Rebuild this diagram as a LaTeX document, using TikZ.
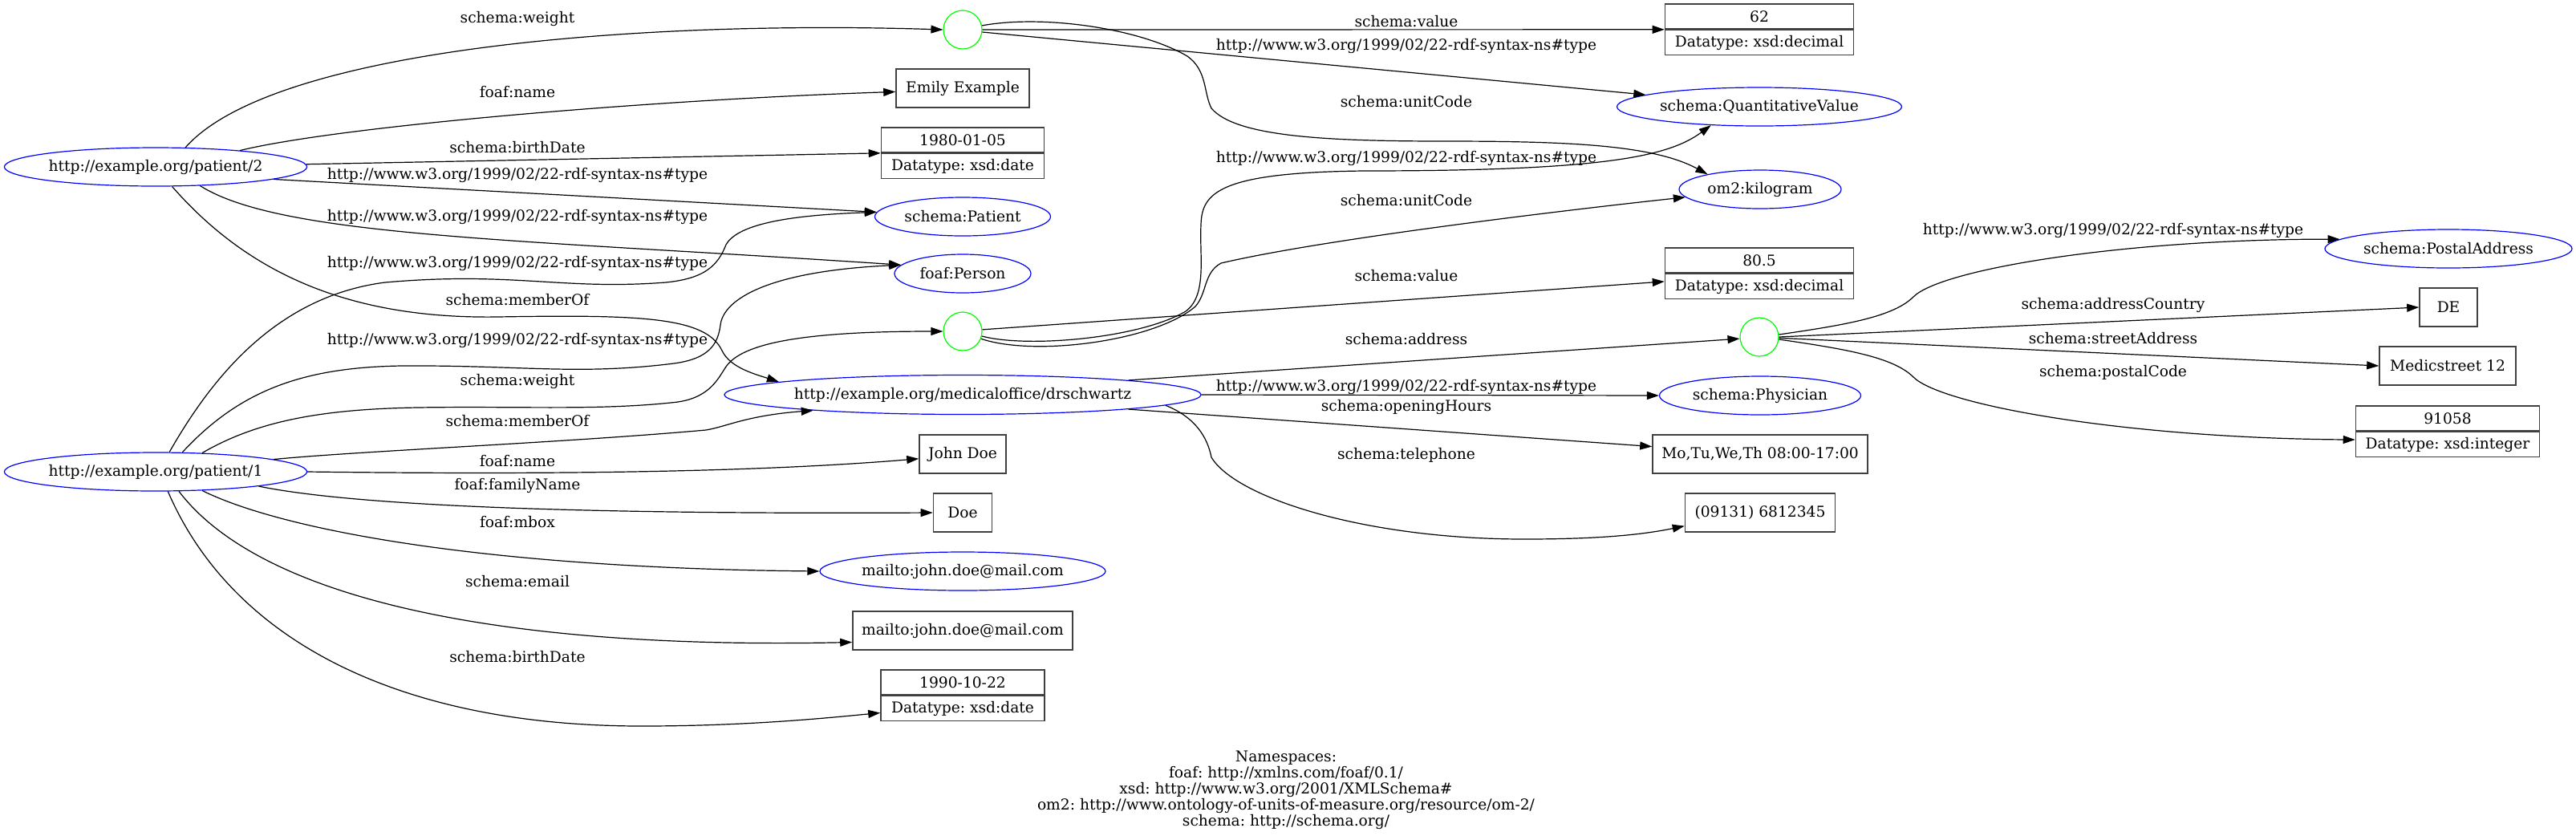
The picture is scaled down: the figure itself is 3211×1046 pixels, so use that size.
\documentclass[tikz,border=0pt]{standalone}
\usepackage{fontspec}
\setmainfont{DejaVu Serif}
\usetikzlibrary{positioning, arrows.meta, shapes.geometric}
\newcommand{\rdftype}{http://www.w3.org/1999/02/22-rdf-syntax-ns\#type}
\frenchspacing
\tikzset{
    every node/.style={
        font=\fontsize{9.33pt}{10pt}\selectfont
    },
    iri/.style={
        ellipse,
        draw=blue,
        line width=0.6pt,
        inner sep=0pt,
        minimum height=24pt
    },
    bnode/.style={
        circle,
        draw=green,
        line width=0.6pt,
        inner sep=0pt,
        minimum size=24pt
    },
    literal/.style={
        rectangle,
        draw=black!75,
        line width=0.8pt,
        inner sep=0pt,
        minimum height=24pt
    },
    litpart/.style={
        rectangle,
        draw=black!75,
        line width=0.8pt,
        inner sep=0pt,
        minimum height=15.5pt
    },
    edge/.style={
        line width=0.6pt,
        -{Triangle[length=7.5pt,width=5pt]}
    },
    lbl/.style={
        inner sep=0pt
    }
}

\begin{document}
\begin{tikzpicture}[x=0.5pt,y=-0.5pt]
\useasboundingbox (0,0) rectangle (3211,1046);

%---------------- Subjects ----------------

\node[iri, minimum width=188.5pt] (p2) at (194,208) {http://example.org/patient/2};
\node[iri, minimum width=188.5pt] (p1) at (194,588) {http://example.org/patient/1};

%---------------- Middle column ----------------

\node[bnode] (bn1) at (1200,37) {};
\node[literal, minimum width=83pt] (emily) at (1200,110) {Emily Example};
\node[litpart, minimum width=101.5pt] (t1980) at (1200,174.5) {1980-01-05};
\node[litpart, minimum width=101.5pt, below=0pt of t1980] (d1980) {Datatype: xsd:date};
\node[iri, minimum width=109.5pt] (pat) at (1200,270) {schema:Patient};
\node[iri, minimum width=85pt] (per) at (1200,341) {foaf:Person};
\node[bnode] (bn2) at (1200,413) {};
\node[iri, minimum width=289.5pt, minimum height=24.5pt] (dr) at (1200,492) {http://example.org/medicaloffice/drschwartz};
\node[literal, minimum width=54pt] (john) at (1200,566) {John Doe};
\node[literal, minimum width=36.5pt] (doe) at (1200,639) {Doe};
\node[iri, minimum width=178pt] (mailto) at (1200,712) {mailto:john.doe@mail.com};
\node[literal, minimum width=137pt] (mbox) at (1200,786) {mailto:john.doe@mail.com};
\node[litpart, minimum width=102pt] (t1990) at (1200,850.5) {1990-10-22};
\node[litpart, minimum width=102pt, below=0pt of t1990] (d1990) {Datatype: xsd:date};

%---------------- Right column ----------------

\node[litpart, minimum width=117.5pt] (t62) at (2193,20.5) {62};
\node[litpart, minimum width=117.5pt, below=0pt of t62] (d62) {Datatype: xsd:decimal};
\node[iri, minimum width=177.5pt] (qv) at (2193,133) {schema:QuantitativeValue};
\node[iri, minimum width=101pt] (om2) at (2194,236) {om2:kilogram};
\node[litpart, minimum width=117.5pt] (t805) at (2193,324.5) {80.5};
\node[litpart, minimum width=117.5pt, below=0pt of t805] (d805) {Datatype: xsd:decimal};
\node[bnode] (bn3) at (2193,420) {};
\node[iri, minimum width=125.5pt] (phys) at (2194,493) {schema:Physician};
\node[literal, minimum width=134pt] (mo) at (2194,566) {Mo,Tu,We,Th 08:00-17:00};
\node[literal, minimum width=93.5pt] (tel) at (2194,639) {(09131) 6812345};

%---------------- Address ----------------

\node[iri, minimum width=154pt] (pa) at (3052,310) {schema:PostalAddress};
\node[literal, minimum width=36pt] (de) at (3052,383) {DE};
\node[literal, minimum width=85pt] (med) at (3051,456) {Medicstreet 12};
\node[litpart, minimum width=114.5pt] (t91058) at (3051,521.5) {91058};
\node[litpart, minimum width=114.5pt, below=0pt of t91058] (d91058) {Datatype: xsd:integer};

%---------------- Edges of patient/2 ----------------

\draw[edge] (p2.33) .. controls (340,60) and (800,25) .. (bn1.west);
\draw[edge] (p2.11) .. controls (420,158) and (800,125) .. (emily.183);
\draw[edge] (p2.1) -- (t1980.south west);
\draw[edge] (p2.-6) -- (pat.177);
\draw[edge] (p2.-23) .. controls (350,295) and (640,298) .. (per.172);
\draw[edge] (p2.-50) .. controls (300,330) and (420,398) .. (620,395) .. controls (800,392) and (880,395) .. (900,437) .. controls (910,458) and (940,466) .. (dr.176);

\node[lbl] (lw2) at (645,23) {schema:weight};
\node[lbl] (ln2) at (645,115) {foaf:name};
\node[lbl] (lb2) at (645,184) {schema:birthDate};
\node[lbl] (lt2a) at (645,218) {\rdftype};
\node[lbl] (lt2b) at (645,270) {\rdftype};
\node[lbl] (lm2) at (645,374) {schema:memberOf};

%---------------- Edges of patient/1 ----------------

\draw[edge] (p1.55) .. controls (260,478) and (340,370) .. (480,352) .. controls (640,338) and (700,362) .. (830,352) .. controls (880,347) and (895,330) .. (905,305) .. controls (920,278) and (990,268) .. (pat.177);
\draw[edge] (p1.36) .. controls (300,485) and (380,458) .. (500,456) .. controls (650,455) and (720,468) .. (840,453) .. controls (885,447) and (895,428) .. (898,405) .. controls (902,372) and (960,338) .. (per.172);
\draw[edge] (p1.22) .. controls (320,525) and (400,510) .. (520,508) .. controls (650,506) and (750,512) .. (845,501) .. controls (885,495) and (895,472) .. (905,457) .. controls (925,428) and (1000,413) .. (bn2.west);
\draw[edge] (p1.6) .. controls (450,562) and (700,552) .. (880,536) .. controls (905,532) and (930,518) .. (dr.186);
\draw[edge] (p1.east) .. controls (700,592) and (950,588) .. (john.186);
\draw[edge] (p1.-8) .. controls (450,632) and (750,641) .. (doe.west);
\draw[edge] (p1.-22) .. controls (350,660) and (600,708) .. (mailto.west);
\draw[edge] (p1.-40) .. controls (320,740) and (600,810) .. (mbox.186);
\draw[edge] (p1.-58) .. controls (290,800) and (500,905) .. (800,905) .. controls (930,905) and (1030,895) .. (d1990.183);

\node[lbl] (lt1a) at (645,328) {\rdftype};
\node[lbl] (lt1b) at (645,424) {\rdftype};
\node[lbl] (lw1) at (645,475) {schema:weight};
\node[lbl] (lm1) at (645,525) {schema:memberOf};
\node[lbl] (ln1) at (645,575) {foaf:name};
\node[lbl] (lf1) at (645,605) {foaf:familyName};
\node[lbl] (lmb1) at (645,651) {foaf:mbox};
\node[lbl] (le1) at (645,725) {schema:email};
\node[lbl] (lb1) at (645,819) {schema:birthDate};

%---------------- Edges of the weights ----------------

\draw[edge] (bn1.east) -- (t62.south west);
\draw[edge] (bn1.-7) -- (qv.174);
\draw[edge] (bn1.12) .. controls (1300,18) and (1420,35) .. (1480,70) .. controls (1505,88) and (1500,115) .. (1510,135) .. controls (1540,170) and (1650,176) .. (1800,176) .. controls (1950,176) and (2060,180) .. (om2.164);
\draw[edge] (bn2.-14) .. controls (1280,434) and (1420,422) .. (1478,388) .. controls (1505,368) and (1495,320) .. (1497,280) .. controls (1498,240) and (1520,215) .. (1700,213) .. controls (2000,213) and (2080,195) .. (qv.-159);
\draw[edge] (bn2.-22) .. controls (1290,445) and (1440,425) .. (1490,382) .. controls (1505,365) and (1500,340) .. (1522,328) .. controls (1650,298) and (1950,262) .. (om2.186);
\draw[edge] (bn2.5) -- (d805.177);

\node[lbl] (lv1) at (1753,27) {schema:value};
\node[lbl] (lq1) at (1753,57) {\rdftype};
\node[lbl] (lu1) at (1753,127) {schema:unitCode};
\node[lbl] (lq2) at (1753,197) {\rdftype};
\node[lbl] (lu2) at (1753,250) {schema:unitCode};
\node[lbl] (lv2) at (1753,344) {schema:value};

%---------------- Edges of the medical office ----------------

\draw[edge] (dr.5) -- (bn3.185);
\draw[edge] (dr.east) -- (phys.west);
\draw[edge] (dr.-5) -- (mo.176);
\draw[edge] (dr.-3) .. controls (1490,520) and (1505,545) .. (1510,570) .. controls (1540,620) and (1700,672) .. (1900,672) .. controls (1980,672) and (2040,668) .. (tel.190);

\node[lbl] (la) at (1753,423) {schema:address};
\node[lbl] (lph) at (1753,482) {\rdftype};
\node[lbl] (loh) at (1753,507) {schema:openingHours};
\node[lbl] (lte) at (1753,567) {schema:telephone};

%---------------- Edges of the address ----------------

\draw[edge] (bn3.7) .. controls (2300,405) and (2360,395) .. (2385,370) .. controls (2420,335) and (2650,298) .. (pa.175);
\draw[edge] (bn3.east) -- (de.west);
\draw[edge] (bn3.-3) -- (med.west);
\draw[edge] (bn3.-7) .. controls (2300,435) and (2360,445) .. (2385,470) .. controls (2420,505) and (2650,546) .. (d91058.177);

\node[lbl] (lpa) at (2634,287) {\rdftype};
\node[lbl] (lac) at (2634,380) {schema:addressCountry};
\node[lbl] (lsa) at (2634,422) {schema:streetAddress};
\node[lbl] (lpc) at (2634,464) {schema:postalCode};

%---------------- Namespaces ----------------

\node[align=center] (ns) at (1603,985) {Namespaces:\\foaf: http://xmlns.com/foaf/0.1/\\xsd: http://www.w3.org/2001/XMLSchema\#\\om2: http://www.ontology-of-units-of-measure.org/resource/om-2/\\schema: http://schema.org/};

\end{tikzpicture}
\end{document}
